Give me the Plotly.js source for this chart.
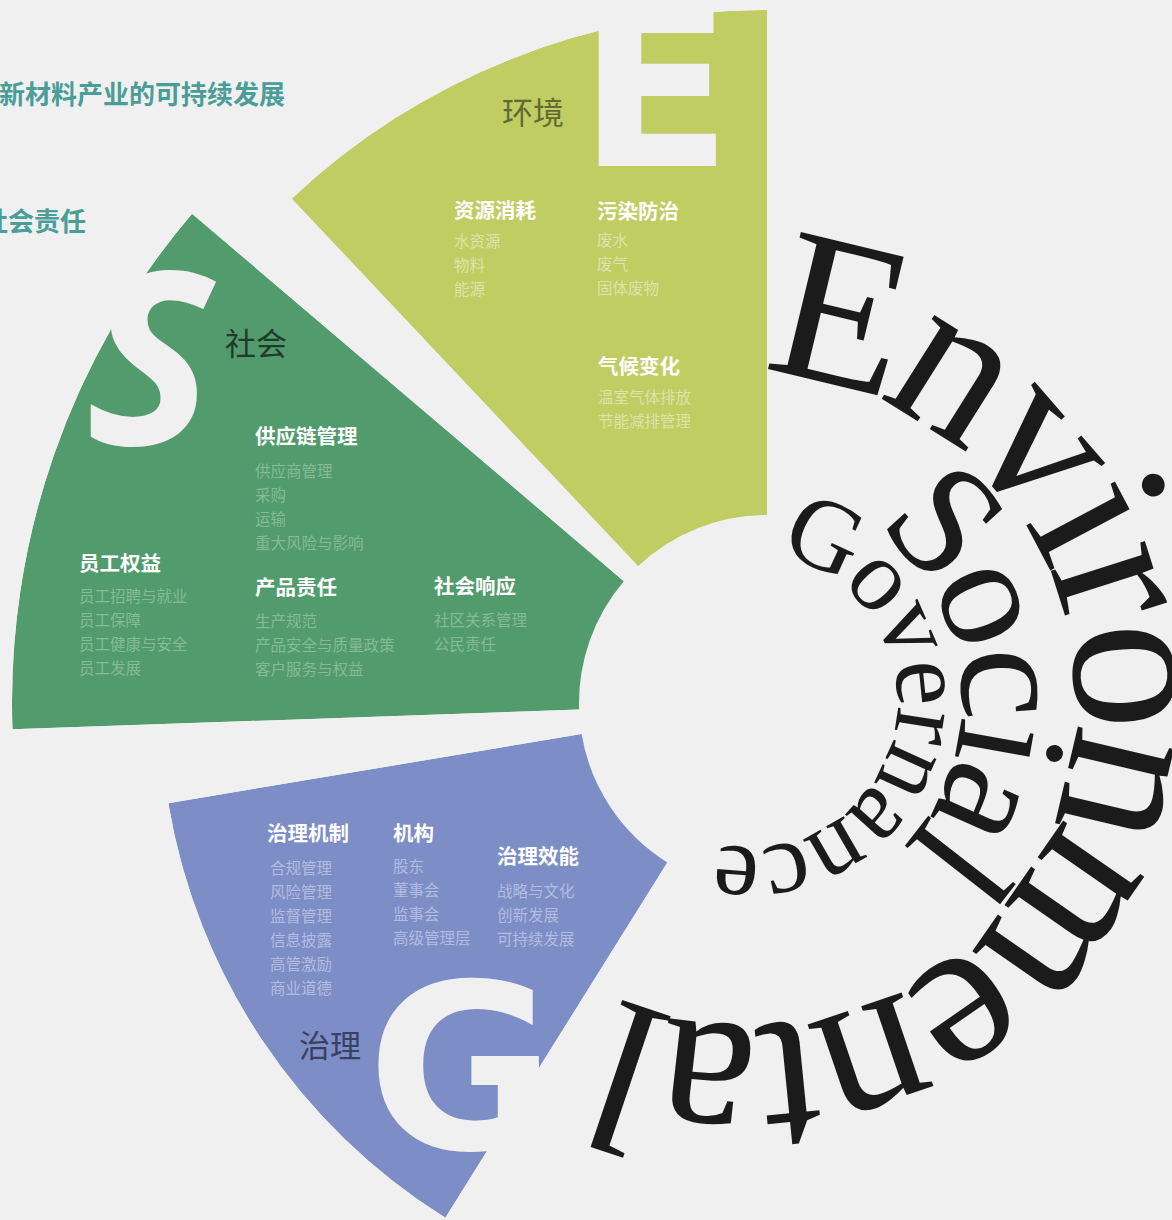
<!DOCTYPE html>
<html><head><meta charset="utf-8">
<script src="https://cdn.plot.ly/plotly-3.0.1.min.js"></script>
<style>html,body{margin:0;padding:0;background:#f0f0f0;overflow:hidden}#chart{width:1172px;height:1220px}</style>
</head><body><div id="chart"></div>
<script>
// ---------------- data ----------------
const pillarNames   = ['环境', '社会', '治理'];
const pillarLetters = ['E', 'S', 'G'];
const wedgeStart    = [90, 139.6, 189.5];     // degrees (counter-clockwise from east)
const wedgeEnd      = [133.3, 182, 238];
const wedgeInner    = [188, 188, 188];
const wedgeOuter    = [693, 755, 607];

const headlineTexts = ['新材料产业的可持续发展', '社会责任'];

const envGroups = ['资源消耗', '污染防治', '气候变化'];
const envItems  = [['水资源', '物料', '能源'], ['废水', '废气', '固体废物'], ['温室气体排放', '节能减排管理']];
const socGroups = ['供应链管理', '员工权益', '产品责任', '社会响应'];
const socItems  = [['供应商管理', '采购', '运输', '重大风险与影响'],
                   ['员工招聘与就业', '员工保障', '员工健康与安全', '员工发展'],
                   ['生产规范', '产品安全与质量政策', '客户服务与权益'],
                   ['社区关系管理', '公民责任']];
const govGroups = ['治理机制', '机构', '治理效能'];
const govItems  = [['合规管理', '风险管理', '监督管理', '信息披露', '高管激励', '商业道德'],
                   ['股东', '董事会', '监事会', '高级管理层'],
                   ['战略与文化', '创新发展', '可持续发展']];

const ringWords = ['Environmental', 'Social', 'Governance'];

// ---------------- layout helpers ----------------
const W = 1172, H = 1220, CX = 767, CY = 703;
const BG = '#f0f0f0';
const colors = ['#BFCD63', '#519B6C', '#7D8DC5'];
const itemColors = ['#DCE4A9', '#85BC96', '#B3BCE2'];
const nameColors = ['#5F6B33', '#23392A', '#3A4063'];
const CJK = 'Noto Sans CJK SC';
const px = x => x / W, py = y => 1 - y / H;

function sectorBBox(s0, s1) {
  const arc = s1 - s0, a0 = ((s0 % 360) + 360) % 360, a1 = a0 + arc, d = Math.PI / 180;
  const ax0 = Math.cos(a0 * d), ay0 = Math.sin(a0 * d), ax1 = Math.cos(a1 * d), ay1 = Math.sin(a1 * d);
  let x0, y0, x1, y1;
  if ((a0 <= 90 && a1 >= 90) || (a0 > 90 && a1 >= 450)) y1 = 1;
  else if (ay0 <= 0 && ay1 <= 0) y1 = 0; else y1 = Math.max(ay0, ay1);
  if ((a0 <= 180 && a1 >= 180) || (a0 > 180 && a1 >= 540)) x0 = -1;
  else if (ax0 >= 0 && ax1 >= 0) x0 = 0; else x0 = Math.min(ax0, ax1);
  if ((a0 <= 270 && a1 >= 270) || (a0 > 270 && a1 >= 630)) y0 = -1;
  else if (ay0 >= 0 && ay1 >= 0) y0 = 0; else y0 = Math.min(ay0, ay1);
  if (a1 >= 360) x1 = 1;
  else if (ax0 <= 0 && ax1 <= 0) x1 = 0; else x1 = Math.max(ax0, ax1);
  return [x0, y0, x1, y1];
}

const traces = [];
const layout = {
  width: W, height: H, margin: {l: 0, r: 0, t: 0, b: 0},
  paper_bgcolor: BG, plot_bgcolor: BG, showlegend: false, annotations: []
};

pillarNames.forEach((name, i) => {
  const key = i === 0 ? 'polar' : 'polar' + (i + 1);
  const R = wedgeOuter[i];
  const bb = sectorBBox(wedgeStart[i], wedgeEnd[i]);
  const left = CX + R * bb[0], right = CX + R * bb[2];
  const top = CY - R * bb[3], bottom = CY - R * bb[1];
  layout[key] = {
    domain: {x: [Math.max(0, px(left)), Math.min(1, px(right))], y: [Math.max(0, py(bottom)), Math.min(1, py(top))]},
    sector: [wedgeStart[i], wedgeEnd[i]],
    bgcolor: 'rgba(0,0,0,0)', hole: 0,
    radialaxis: {visible: false, range: [0, R], showgrid: false, showline: false},
    angularaxis: {visible: false, rotation: 0, direction: 'counterclockwise', showgrid: false, showline: false}
  };
  traces.push({
    type: 'barpolar', subplot: key, name: name,
    theta: [(wedgeStart[i] + wedgeEnd[i]) / 2], width: [wedgeEnd[i] - wedgeStart[i]],
    r: [wedgeOuter[i] - wedgeInner[i]], base: [wedgeInner[i]],
    marker: {color: colors[i], line: {width: 0}}, hoverinfo: 'skip'
  });
});

const A = layout.annotations;
function txt(x, y, t, size, color, opts) {
  opts = opts || {};
  A.push(Object.assign({
    x: px(x), y: py(y), xref: 'paper', yref: 'paper', text: t, showarrow: false,
    xanchor: 'left', yanchor: 'middle',
    font: {family: CJK, size: size, color: color, weight: opts.weight || 'normal'}
  }, opts.extra || {}));
}

// headline texts (cut by the left page edge)
txt(287, 93, headlineTexts[0], 26, '#4B9D97', {weight: 'bold', extra: {xanchor: 'right'}});
txt(88, 220, headlineTexts[1], 26, '#4B9D97', {weight: 'bold', extra: {xanchor: 'right'}});

// big letters in background colour
function big(x, y, t, fam, size) {
  A.push({x: px(x), y: py(y), xref: 'paper', yref: 'paper', text: t, showarrow: false,
    xanchor: 'center', yanchor: 'middle', font: {family: fam, size: size, color: BG}});
}
big(655, 87, '<b>' + pillarLetters[0] + '</b>', 'DejaVu Sans', 226);
big(152, 352, '<b><i>' + pillarLetters[1] + '</i></b>', 'Open Sans', 240);
big(461, 1069, '<b>' + pillarLetters[2] + '</b>', 'DejaVu Sans', 230);

// pillar names
txt(500, 111, pillarNames[0], 31, nameColors[0]);
txt(223, 341, pillarNames[1], 31, nameColors[1]);
txt(297, 1043, pillarNames[2], 31, nameColors[2]);

// groups and items
const STEP = 24;
function block(groups, items, pos, ci) {
  groups.forEach((g, k) => {
    const p = pos[k];
    txt(p[0], p[1], g, 20.5, '#FFFFFF', {weight: 'bold'});
    items[k].forEach((it, j) => txt(p[3] !== undefined ? p[3] : p[0], p[2] + j * STEP, it, 15.5, itemColors[ci]));
  });
}
block(envGroups, envItems, [[452, 209, 240], [595, 210, 239], [596, 365, 396]], 0);
block(socGroups, socItems, [[253, 435, 470], [77, 562, 595], [253, 586, 620], [432, 585, 619]], 1);
block(govGroups, govItems, [[265, 832, 867, 268], [391, 832, 865], [495, 855, 890]], 2);

// curved serif words
const ringFont = 'Liberation Serif';
const ringSpec = [
  {fs: 215, rc: 398, b0: 13.5, b1: 198.6},
  {fs: 160, rc: 266, b0: 47.5, b1: 128},
  {fs: 102, rc: 182, b0: 24.6, b1: 184.4}
];
const RCX = 750, RCY = 700;
const ctx = document.createElement('canvas').getContext('2d');
ringWords.forEach((w, k) => {
  const sp = ringSpec[k];
  ctx.font = sp.fs + 'px "' + ringFont + '"';
  const chars = w.split('');
  const widths = chars.map(c => ctx.measureText(c).width);
  let cum = 0;
  const mids = widths.map(wd => { const m = cum + wd / 2; cum += wd; return m; });
  const m0 = mids[0], m1 = mids[mids.length - 1];
  chars.forEach((c, i) => {
    const b = sp.b0 + (mids[i] - m0) / (m1 - m0) * (sp.b1 - sp.b0);
    const br = b * Math.PI / 180;
    const x = RCX + sp.rc * Math.sin(br), y = RCY - sp.rc * Math.cos(br);
    A.push({x: px(x), y: py(y), xref: 'paper', yref: 'paper', text: c, showarrow: false,
      xanchor: 'center', yanchor: 'middle', textangle: b > 180 ? b - 360 : b,
      font: {family: ringFont, size: sp.fs, color: '#1B1B1B'}});
  });
});

Plotly.newPlot('chart', traces, layout, {staticPlot: true, displayModeBar: false});
</script>
</body></html>
